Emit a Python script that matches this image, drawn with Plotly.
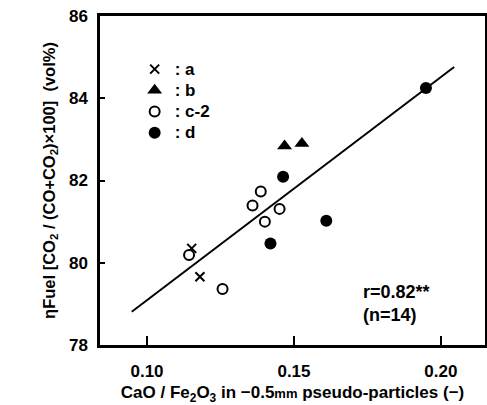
import plotly.graph_objects as go

# Data
a_x = [0.1152, 0.1180]
a_y = [80.35, 79.66]
b_x = [0.1468, 0.1527]
b_y = [82.84, 82.90]
c_x = [0.1143, 0.1257, 0.1359, 0.1387, 0.1401, 0.1451]
c_y = [80.19, 79.36, 81.39, 81.73, 81.00, 81.31]
d_x = [0.1949, 0.1463, 0.1610, 0.1420]
d_y = [84.25, 82.09, 81.02, 80.47]
fit_x = [0.0948, 0.2045]
fit_y = [78.81, 84.76]

x_ticks = [0.10, 0.15, 0.20]
x_tick_labels = ["0.10", "0.15", "0.20"]
y_ticks = [78, 80, 82, 84, 86]
y_tick_labels = ["78", "80", "82", "84", "86"]

FONT = "Liberation Sans"


def big(s):
    return "<span style='font-size:17px'>" + s + "</span>"


fig = go.Figure()
fig.add_trace(go.Scatter(x=fit_x, y=fit_y, mode="lines",
                         line=dict(color="black", width=2), showlegend=False))
fig.add_trace(go.Scatter(x=a_x, y=a_y, mode="markers", name=big(": a"),
                         marker=dict(symbol="x-thin", size=9, color="black",
                                     line=dict(color="black", width=2))))
fig.add_trace(go.Scatter(x=b_x, y=b_y, mode="markers", name=big(": b"),
                         marker=dict(symbol="triangle-up", size=13, color="black",
                                     line=dict(width=0))))
fig.add_trace(go.Scatter(x=c_x, y=c_y, mode="markers", name=big(": c-2"),
                         marker=dict(symbol="circle", size=10, color="white",
                                     line=dict(color="black", width=2))))
fig.add_trace(go.Scatter(x=d_x, y=d_y, mode="markers", name=big(": d"),
                         marker=dict(symbol="circle", size=12, color="black",
                                     line=dict(width=0))))

fig.add_annotation(x=0.173, y=79.0, xref="x", yref="y",
                   text="r=0.82**<br>(n=14)", showarrow=False,
                   xanchor="left", yanchor="middle", align="left", borderpad=0,
                   font=dict(family=FONT, size=18, color="black", weight="bold"))

fig.update_layout(
    width=487, height=405,
    margin=dict(l=100, r=2, t=16, b=60),
    paper_bgcolor="white", plot_bgcolor="white",
    font=dict(family=FONT, color="black"),
    legend=dict(x=0.09, y=0.886, xanchor="left", yanchor="top",
                bgcolor="rgba(0,0,0,0)", borderwidth=0,
                font=dict(family=FONT, size=14, color="black", weight="bold"),
                itemwidth=30, tracegroupgap=0),
)
fig.update_xaxes(range=[0.084, 0.215], tickvals=x_ticks, ticktext=x_tick_labels,
                 automargin=False,
                 showgrid=False, zeroline=False, showline=True, linecolor="black",
                 linewidth=2.5, mirror=True, ticks="inside", ticklen=9, tickwidth=1.5,
                 tickcolor="black", ticklabelstandoff=9,
                 tickfont=dict(family=FONT, size=17, color="black", weight="bold"),
                 title=dict(text="CaO / Fe<sub>2</sub>O<sub>3</sub> in −0.5<span style='font-size:13px'>mm</span> pseudo-particles (−)",
                            font=dict(family=FONT, size=17, color="black", weight="bold"),
                            standoff=8))
fig.update_yaxes(range=[78, 86], tickvals=y_ticks, ticktext=y_tick_labels,
                 automargin=False,
                 showgrid=False, zeroline=False, showline=True, linecolor="black",
                 linewidth=2.5, mirror=True, ticks="inside", ticklen=5, tickwidth=1.5,
                 tickcolor="black", ticklabelstandoff=6,
                 tickfont=dict(family=FONT, size=17, color="black", weight="bold"),
                 title=dict(text="<b>η</b>Fuel [CO<sub>2</sub> / (CO+CO<sub>2</sub>)×100]  (vol%)",
                            font=dict(family=FONT, size=16.5, color="black", weight="bold"),
                            standoff=10))

fig.write_html("out.html", config={"displayModeBar": False},
               post_script="document.body.style.margin='0';document.body.style.overflow='hidden';")
